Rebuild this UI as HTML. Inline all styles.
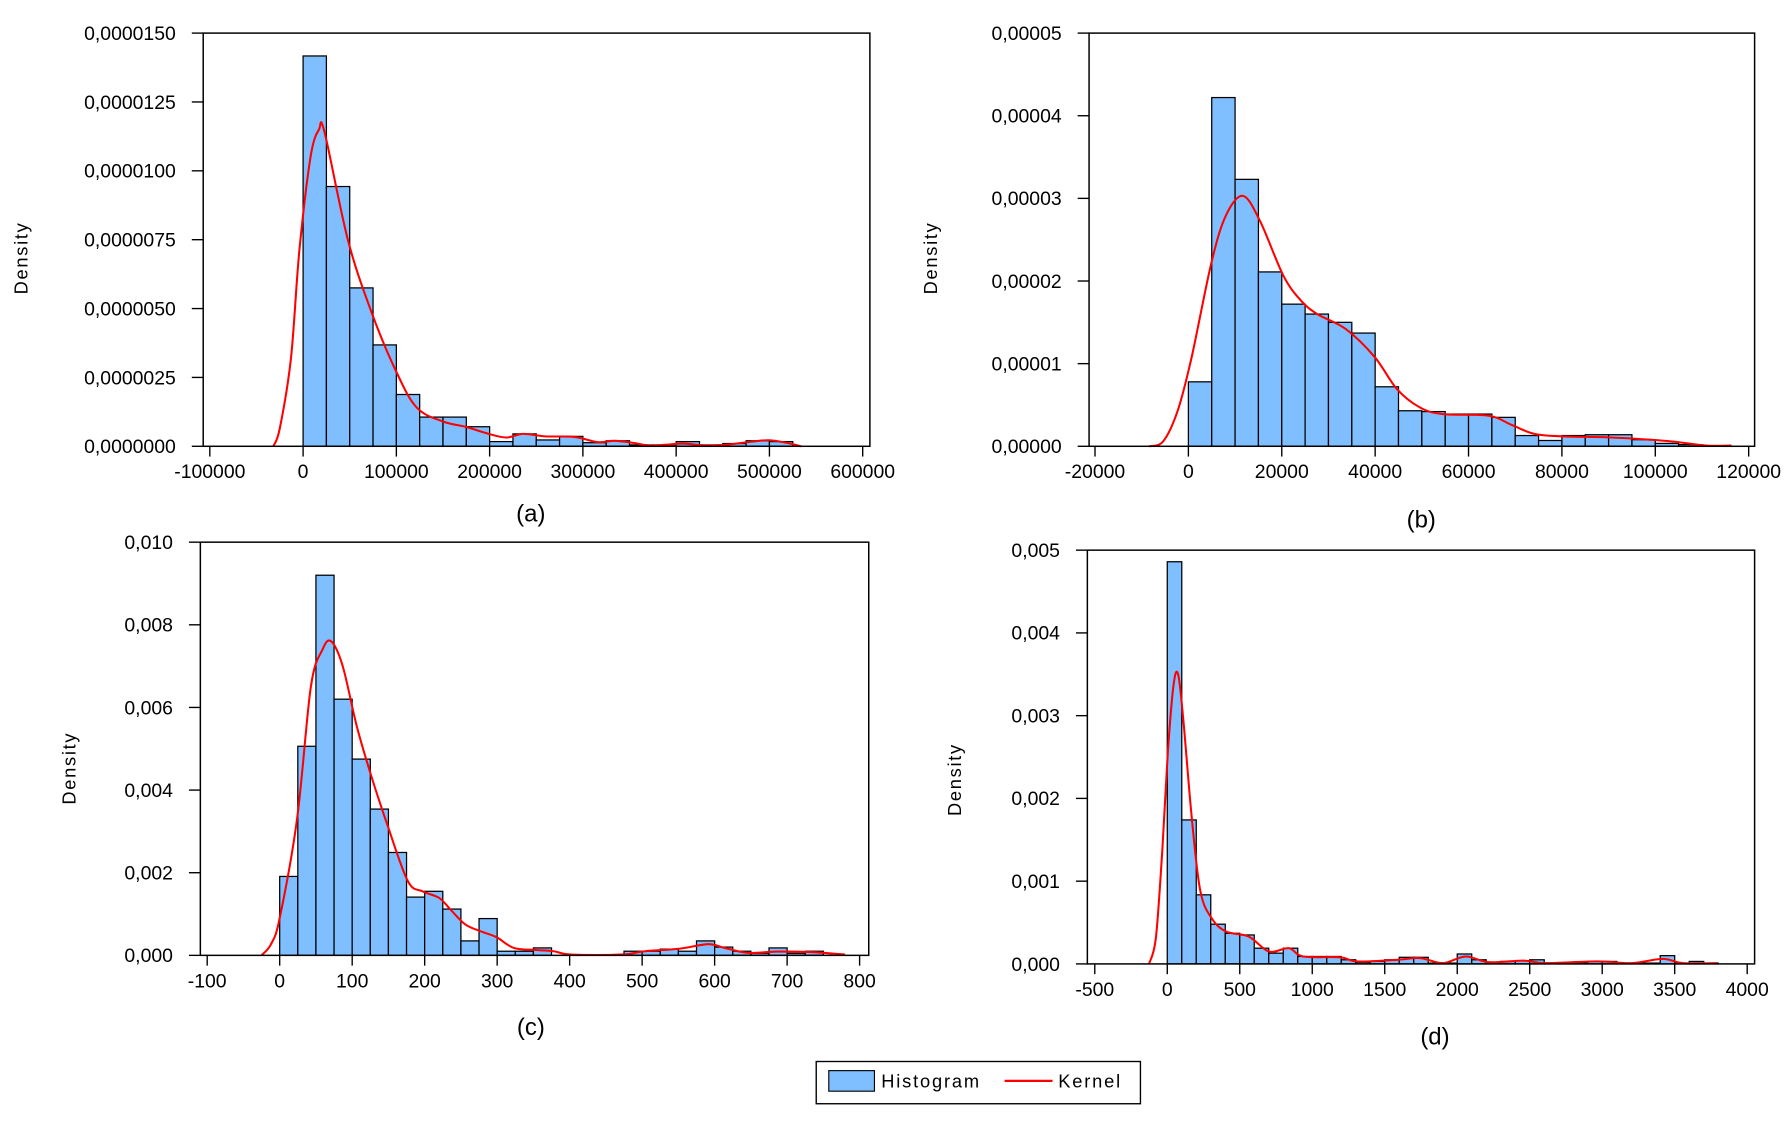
<!DOCTYPE html>
<html><head><meta charset="utf-8"><style>
html,body{margin:0;padding:0;background:#fff;}
svg{display:block;font-family:"Liberation Sans",sans-serif;}
</style></head><body>
<svg id="fig" width="1790" height="1122" viewBox="0 0 1568 983" preserveAspectRatio="none" xmlns="http://www.w3.org/2000/svg">
<g>
<rect x="715" y="930" width="284" height="37" fill="#fff" stroke="#000" stroke-width="1.2"/>
<rect x="726" y="938" width="40" height="18" fill="#80bfff" stroke="#000" stroke-width="1"/>
<text x="772" y="953" font-size="16" letter-spacing="1.6">Histogram</text>
<line x1="880" y1="947" x2="922" y2="947" stroke="#f00" stroke-width="2"/>
<text x="927" y="953" font-size="16" letter-spacing="1.6">Kernel</text>
</g>
</svg>
<script>
// Panel (a)
const aEdges0 = 0, aBinW = 25000;
const aBars = [14.17,9.43,5.75,3.68,1.88,1.06,1.06,0.71,0.17,0.45,0.23,0.36,0.13,0.2,0.05,0.05,0.17,0.05,0.1,0.2,0.17];
const aKx = [-32,-25,-13,-4,8,17,23,48,73,100,122,150,175,199,218,236,260,291,316,334,353,371,390,408,432,457,482,500,518,534];
const aKy = [0,0.65,3.2,7.1,10.5,11.5,11.4,7.5,4.9,2.7,1.4,0.9,0.7,0.45,0.32,0.45,0.36,0.34,0.15,0.2,0.13,0.03,0.06,0.1,0.03,0.07,0.17,0.22,0.13,0];
const aYTicks = [0,2.5,5,7.5,10,12.5,15];
const aYLabels = ["0,0000000","0,0000025","0,0000050","0,0000075","0,0000100","0,0000125","0,0000150"];
const aXTicks = [-100000,0,100000,200000,300000,400000,500000,600000];
// Panel (b)
const bEdges0 = 0, bBinW = 5000;
const bBars = [0.78,4.22,3.23,2.11,1.72,1.60,1.50,1.37,0.72,0.43,0.42,0.39,0.39,0.35,0.13,0.07,0.13,0.14,0.14,0.08,0.035,0.02];
const bKx = [-8.4,-5.4,-2.3,0.7,5,8.1,11.7,15.4,20.3,24,27.6,33.7,39.9,44.7,49.6,54.5,64.3,69.2,74.1,80.2,88.8,96.1,103.4,110.8,116.3];
const bKy = [0,0.06,0.43,1.08,2.24,2.8,3.03,2.72,2.07,1.77,1.6,1.42,1.08,0.69,0.47,0.39,0.37,0.26,0.15,0.12,0.11,0.09,0.06,0.01,0.01];
const bYTicks = [0,1,2,3,4,5];
const bYLabels = ["0,00000","0,00001","0,00002","0,00003","0,00004","0,00005"];
const bXTicks = [-20000,0,20000,40000,60000,80000,100000,120000];
// Panel (c)
const cEdges0 = 0, cBinW = 25;
const cBars = [1.91,5.06,9.2,6.2,4.75,3.54,2.49,1.41,1.55,1.12,0.35,0.89,0.1,0.1,0.18,0,0,0,0,0.1,0.1,0.15,0.1,0.35,0.2,0.1,0.05,0.18,0.05,0.1];
const cKx = [-25,-12,0,24,43,59,71,87,106,126,150,177,197,220,236,256,276,299,323,354,378,402,472,504,551,591,614,646,685,732,780];
const cKy = [0,0.27,0.9,3.3,6.5,7.4,7.6,7.0,5.57,4.36,3.08,1.79,1.55,1.39,1.1,0.75,0.59,0.44,0.18,0.13,0.1,0.02,0.02,0.1,0.16,0.27,0.18,0.06,0.09,0.08,0.02];
const cYTicks = [0,2,4,6,8,10];
const cYLabels = ["0,000","0,002","0,004","0,006","0,008","0,010"];
const cXTicks = [-100,0,100,200,300,400,500,600,700,800];
// Panel (d)
const dEdges0 = 0, dBinW = 100;
const dBars = [4.86,1.74,0.835,0.48,0.37,0.35,0.19,0.13,0.19,0.09,0.09,0.09,0.05,0.02,0.03,0.05,0.08,0.08,0.01,0.01,0.12,0.05,0.01,0.03,0.04,0.05,0.01,0.01,0.01,0.03,0.03,0.01,0.01,0.01,0.1,0.01,0.03,0.01];
const dKx = [-126,-79,-35,4,43,75,110,169,228,307,406,563,701,839,937,1193,1311,1587,1744,1902,2059,2217,2453,2610,2965,3201,3417,3555,3791];
const dKy = [0,0.31,1.36,2.56,3.37,3.5,2.96,1.76,0.88,0.55,0.39,0.33,0.15,0.19,0.09,0.08,0.03,0.05,0.07,0.01,0.09,0.02,0.04,0.01,0.03,0.01,0.06,0.01,0.01];
const dYTicks = [0,1,2,3,4,5];
const dYLabels = ["0,000","0,001","0,002","0,003","0,004","0,005"];
const dXTicks = [-500,0,500,1000,1500,2000,2500,3000,3500,4000];

const NS = "http://www.w3.org/2000/svg";
const svg = document.getElementById('fig');
function mk(tag, attrs, parent){const e=document.createElementNS(NS,tag);for(const k in attrs)e.setAttribute(k,attrs[k]);parent.appendChild(e);return e;}

function smoothPath(pts){
  let d = 'M' + pts[0][0].toFixed(1) + ' ' + pts[0][1].toFixed(1);
  for(let i=0;i<pts.length-1;i++){
    const p0 = pts[Math.max(0,i-1)], p1 = pts[i], p2 = pts[i+1], p3 = pts[Math.min(pts.length-1,i+2)];
    const c1x = p1[0] + (p2[0]-p0[0])/6, c1y = p1[1] + (p2[1]-p0[1])/6;
    const c2x = p2[0] - (p3[0]-p1[0])/6, c2y = p2[1] - (p3[1]-p1[1])/6;
    d += ' C' + c1x.toFixed(1)+' '+c1y.toFixed(1)+' '+c2x.toFixed(1)+' '+c2y.toFixed(1)+' '+p2[0].toFixed(1)+' '+p2[1].toFixed(1);
  }
  return d;
}

function panel(id, P){
  const g = mk('g',{},svg);
  
  
  const xs = v => P.x0px + (v - P.x0v) * P.xpx;
  const ys = v => P.ybot - v / P.ymax * (P.ybot - P.ytop);
  P.bars.forEach((h,i)=>{
    if(h<=0) return;
    const x1 = xs(P.e0 + i*P.bw), x2 = xs(P.e0 + (i+1)*P.bw);
    const r = mk('rect',{x:x1,y:ys(h),width:x2-x1,height:P.ybot-ys(h),fill:'#80bfff',stroke:'#000','stroke-width':1.1},g);
    
    
  });
  const pts = P.kx.map((xv,i)=>[xs(xv*P.ksc), ys(P.ky[i])]);
  const k = mk('path',{d:smoothPath(pts),fill:'none',stroke:'#f00','stroke-width':1.8,'stroke-linejoin':'round'},g);
  
  
  const f = mk('rect',{x:P.left,y:P.ytop,width:P.right-P.left,height:P.ybot-P.ytop,fill:'none',stroke:'#000','stroke-width':1.3},g);
  
  
  P.yt.forEach((t,i)=>{
    const y = ys(t);
    mk('line',{x1:P.left-10,y1:y,x2:P.left,y2:y,stroke:'#000','stroke-width':1.2},g);
    const tx = mk('text',{x:P.left-24,y:y+6,'font-size':17,'text-anchor':'end'},g);
    tx.textContent = P.yl[i];
    
    
  });
  P.xt.forEach(t=>{
    const x = xs(t);
    mk('line',{x1:x,y1:P.ybot,x2:x,y2:P.ybot+9,stroke:'#000','stroke-width':1.2},g);
    const tx = mk('text',{x:x,y:P.ybot+28,'font-size':17,'text-anchor':'middle'},g);
    tx.textContent = String(t);
    
    
  });
  const yt = mk('text',{x:0,y:0,'font-size':16,'letter-spacing':'1.5','text-anchor':'middle',transform:'translate('+(P.dx)+','+P.dy+') rotate(-90)'},g);
  yt.textContent = 'Density';
  
  
  const cap = mk('text',{x:P.cx,y:P.cy,'font-size':21,'text-anchor':'middle'},g);
  cap.textContent = '(' + id + ')';
  
  
}

panel('a',{left:178,right:762,ytop:29,ybot:391,x0v:0,x0px:265.5,xpx:81.7/100000,ymax:15,e0:aEdges0,bw:aBinW,bars:aBars,kx:aKx,ky:aKy,ksc:1000,yt:aYTicks,yl:aYLabels,xt:aXTicks,dx:24,dy:226,cx:465,cy:457});
panel('b',{left:954,right:1537,ytop:29,ybot:391,x0v:0,x0px:1041,xpx:81.8/20000,ymax:5,e0:bEdges0,bw:bBinW,bars:bBars,kx:bKx,ky:bKy,ksc:1000,yt:bYTicks,yl:bYLabels,xt:bXTicks,dx:821,dy:226,cx:1245,cy:462});
panel('c',{left:175.5,right:761,ytop:475,ybot:837,x0v:0,x0px:245,xpx:63.5/100,ymax:10,e0:cEdges0,bw:cBinW,bars:cBars,kx:cKx,ky:cKy,ksc:1,yt:cYTicks,yl:cYLabels,xt:cXTicks,dx:66,dy:673,cx:465,cy:907});
panel('d',{left:952.5,right:1537,ytop:482,ybot:844.5,x0v:0,x0px:1022.5,xpx:63.5/500,ymax:5,e0:dEdges0,bw:dBinW,bars:dBars,kx:dKx,ky:dKy,ksc:1,yt:dYTicks,yl:dYLabels,xt:dXTicks,dx:842,dy:683,cx:1257,cy:915});
</script>
</body></html>
